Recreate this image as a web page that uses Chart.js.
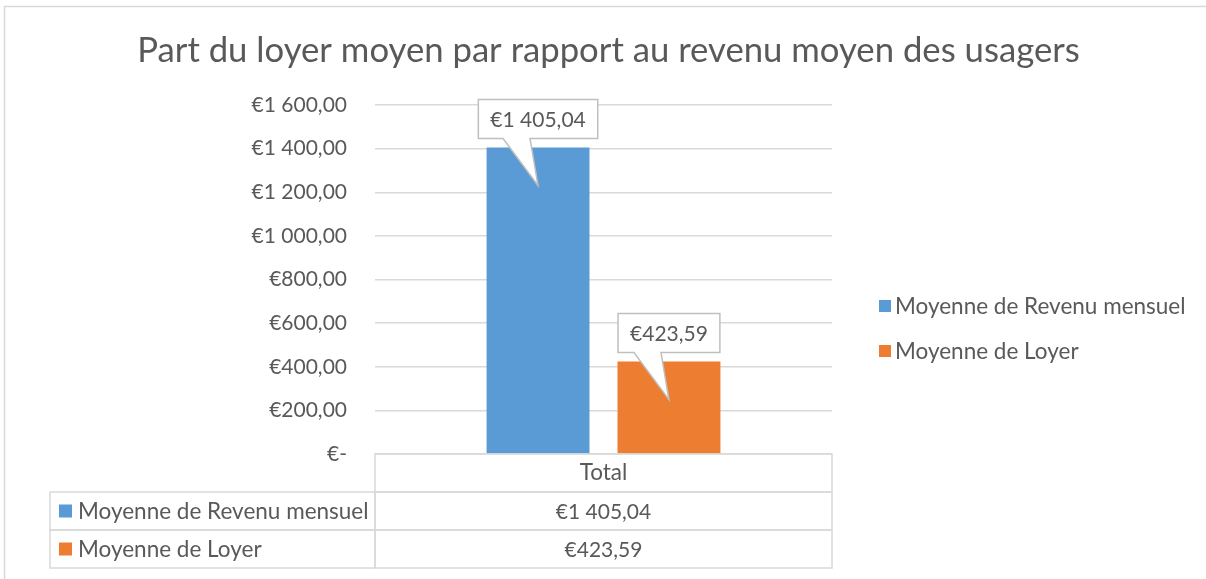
<!DOCTYPE html>
<html lang="fr">
<head>
<meta charset="utf-8">
<title>Part du loyer moyen</title>
<script src="https://cdn.jsdelivr.net/npm/chart.js@4.4.1/dist/chart.umd.min.js"></script>
<style>
  html, body { margin: 0; padding: 0; background: #fff; }
  canvas { display: block; }
</style>
</head>
<body>
<canvas id="loyerChart" width="1206" height="579"></canvas>
<script>
const chartTitle = 'Part du loyer moyen par rapport au revenu moyen des usagers';
const categories = ['Total'];
const seriesNames = ['Moyenne de Revenu mensuel', 'Moyenne de Loyer'];
const revenu = [1405.04];
const loyer = [423.59];
const yTicks = [0, 200, 400, 600, 800, 1000, 1200, 1400, 1600];

const colors = ['#5B9BD5', '#ED7D31'];
const textColor = '#595959';
const lineColor = '#D9D9D9';
const fontFamily = 'Lato, "Open Sans", sans-serif';
const numFont = '21px ' + fontFamily;
const textFont = '22.5px ' + fontFamily;

// €1 405,04 style, and €- for zero like Excel's accounting format
function euro(v) {
  if (v === 0) return '€-';
  const parts = v.toFixed(2).split('.');
  const whole = parts[0].replace(/\B(?=(\d{3})+(?!\d))/g, ' ');
  return '€' + whole + ',' + parts[1];
}

const extras = {
  id: 'extras',
  beforeDraw(chart) {
    const ctx = chart.ctx;
    ctx.save();
    ctx.fillStyle = '#fff';
    ctx.fillRect(0, 0, chart.width, chart.height);

    // outer frame (only top and left are visible in the picture)
    ctx.strokeStyle = lineColor;
    ctx.lineWidth = 1.5;
    ctx.beginPath();
    ctx.moveTo(4.5, chart.height);
    ctx.lineTo(4.5, 6.5);
    ctx.lineTo(chart.width, 6.5);
    ctx.stroke();

    // title, sized to the width it has in the original
    ctx.font = '32px ' + fontFamily;
    const w = ctx.measureText(chartTitle).width;
    const size = 32 * 943 / w;
    ctx.font = size.toFixed(1) + 'px ' + fontFamily;
    ctx.fillStyle = textColor;
    ctx.textAlign = 'center';
    ctx.textBaseline = 'alphabetic';
    ctx.fillText(chartTitle, 608.5, 62);
    ctx.restore();
  },
  afterDatasetsDraw(chart) {
    const ctx = chart.ctx;
    ctx.save();
    ctx.font = numFont;
    chart.data.datasets.forEach((ds, i) => {
      const bar = chart.getDatasetMeta(i).data[0];
      const label = euro(ds.data[0]);
      const bw = ctx.measureText(label).width + 24;
      const bh = 39;
      const x = bar.x;
      const bottom = bar.y - 9;
      const top = bottom - bh;
      const left = x - bw / 2;
      const right = x + bw / 2;

      ctx.beginPath();
      ctx.moveTo(left, top);
      ctx.lineTo(right, top);
      ctx.lineTo(right, bottom);
      ctx.lineTo(x - 8, bottom);
      ctx.lineTo(x, bar.y + 38);
      ctx.lineTo(x - 35, bottom);
      ctx.lineTo(left, bottom);
      ctx.closePath();
      ctx.fillStyle = '#fff';
      ctx.fill();
      ctx.strokeStyle = '#BFBFBF';
      ctx.lineWidth = 1.5;
      ctx.stroke();

      ctx.fillStyle = textColor;
      ctx.textAlign = 'center';
      ctx.textBaseline = 'middle';
      ctx.fillText(label, x, top + bh / 2 + 1);
    });
    ctx.restore();
  },
  afterDraw(chart) {
    const ctx = chart.ctx;
    const area = chart.chartArea;
    const rowH = 38;
    const tableLeft = 50;
    const top = area.bottom;
    const mid = (area.left + area.right) / 2;
    ctx.save();
    ctx.strokeStyle = lineColor;
    ctx.lineWidth = 1.5;

    // data table grid
    ctx.strokeRect(area.left, top, area.right - area.left, rowH);
    for (let r = 0; r < chart.data.datasets.length; r++) {
      const y = top + rowH * (r + 1);
      ctx.strokeRect(tableLeft, y, area.left - tableLeft, rowH);
      ctx.strokeRect(area.left, y, area.right - area.left, rowH);
    }

    ctx.fillStyle = textColor;
    ctx.textBaseline = 'middle';
    ctx.textAlign = 'center';
    ctx.font = textFont;
    ctx.fillText(chart.data.labels[0], mid, top + rowH / 2);

    chart.data.datasets.forEach((ds, r) => {
      const cy = top + rowH * (r + 1) + rowH / 2;
      ctx.fillStyle = ds.backgroundColor;
      ctx.fillRect(59, cy - 6.5, 13, 13);
      ctx.fillStyle = textColor;
      ctx.textAlign = 'left';
      ctx.font = textFont;
      ctx.fillText(ds.label, 78, cy + 1);
      ctx.textAlign = 'center';
      ctx.font = numFont;
      ctx.fillText(euro(ds.data[0]), mid, cy + 1);
    });

    // legend on the right
    ctx.font = textFont;
    chart.data.datasets.forEach((ds, r) => {
      const cy = 306 + r * 45;
      ctx.fillStyle = ds.backgroundColor;
      ctx.fillRect(879, cy - 6, 12, 12);
      ctx.fillStyle = textColor;
      ctx.textAlign = 'left';
      ctx.fillText(ds.label, 895, cy + 1);
    });
    ctx.restore();
  }
};

window.addEventListener('DOMContentLoaded', () => {
  const ctx = document.getElementById('loyerChart').getContext('2d');

  new Chart(ctx, {
    type: 'bar',
    data: {
      labels: categories,
      datasets: [
        { label: seriesNames[0], data: revenu, backgroundColor: colors[0] },
        { label: seriesNames[1], data: loyer, backgroundColor: colors[1] }
      ]
    },
    options: {
      responsive: false,
      animation: false,
      layout: { padding: { left: 0, top: 105, right: 374, bottom: 125 } },
      datasets: { bar: { categoryPercentage: 0.573, barPercentage: 0.786 } },
      plugins: {
        legend: { display: false },
        tooltip: { enabled: false }
      },
      scales: {
        x: { display: false },
        y: {
          min: 0,
          max: 1600,
          afterBuildTicks: scale => { scale.ticks = yTicks.map(v => ({ value: v })); },
          afterFit: scale => { scale.width = 375; },
          border: { display: false },
          grid: { color: lineColor, lineWidth: 1.5, drawTicks: false },
          ticks: {
            padding: 28,
            color: textColor,
            font: { family: fontFamily, size: 21 },
            callback: v => euro(v)
          }
        }
      }
    },
    plugins: [extras]
  });
});
</script>
</body>
</html>
